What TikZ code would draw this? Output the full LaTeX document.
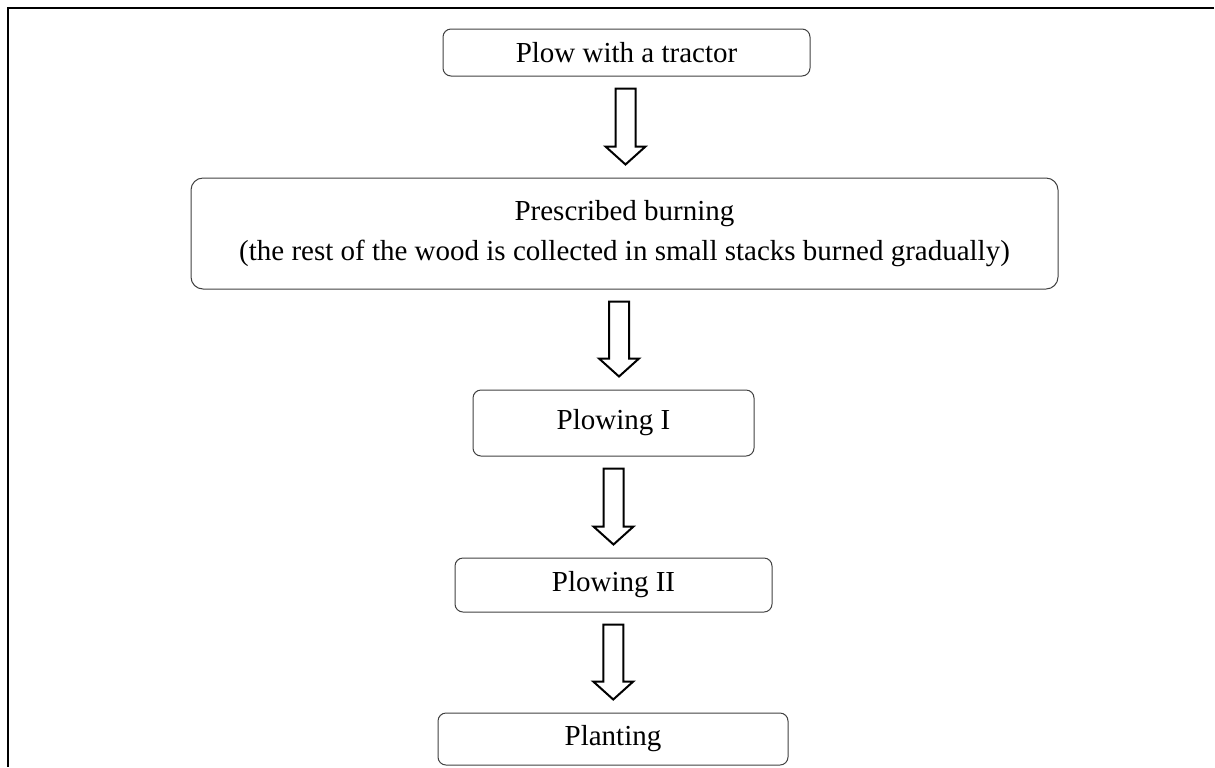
\documentclass[tikz,border=0pt]{standalone}
\usepackage{fontspec,xcolor,tikz}
\usetikzlibrary{calc}
\setmainfont{Liberation Serif}
\definecolor{ink}{HTML}{000000}
\definecolor{edge}{HTML}{404040}

\tikzset{
  stage/.style={draw=edge,line width=0.5pt,rounded corners=4pt,inner sep=0pt,
                align=center,font=\fontsize{14.5}{20}\selectfont,text=ink},
  blockarrow/.style={draw=ink,line width=1pt,fill=white,line join=miter},
  frameline/.style={draw=ink,line width=1pt}
}

\begin{document}
\begin{tikzpicture}[x=0.5pt,y=-0.5pt]
  \useasboundingbox (0,0) rectangle (1215,767);
  \draw[frameline] (1214,7.75) -- (7.75,7.75) -- (7.75,767);

  \node[stage,minimum width=183.5pt,minimum height=23.5pt] (plow)   at (626.5,52.5) {Plow with a tractor};
  \node[stage,minimum width=433.5pt,minimum height=55.5pt,rounded corners=6pt] (burn) at (624.5,233.5)
    {Prescribed burning\\(the rest of the wood is collected in small stacks burned gradually)};
  \node[stage,minimum width=140.5pt,minimum height=33pt]   (plowi)  at (613.5,423) {Plowing I};
  \node[stage,minimum width=158.5pt,minimum height=27pt]   (plowii) at (613.5,585) {Plowing II};
  \node[stage,minimum width=175pt,minimum height=26pt]     (plant)  at (613,739)   {Planting};

  \foreach \a/\b in {plow/burn, burn/plowi, plowi/plowii, plowii/plant}{
    \draw[blockarrow] let \p1=(\a.south), \p2=(\b.north), \n1={(\x1+\x2)/2} in
      (\n1-5pt,\y1-6pt) -- (\n1+5pt,\y1-6pt) -- (\n1+5pt,\y2+15.5pt) -- (\n1+10pt,\y2+15.5pt)
      -- (\n1,\y2+6.5pt) -- (\n1-10pt,\y2+15.5pt) -- (\n1-5pt,\y2+15.5pt) -- cycle;
  }
\end{tikzpicture}
\end{document}
